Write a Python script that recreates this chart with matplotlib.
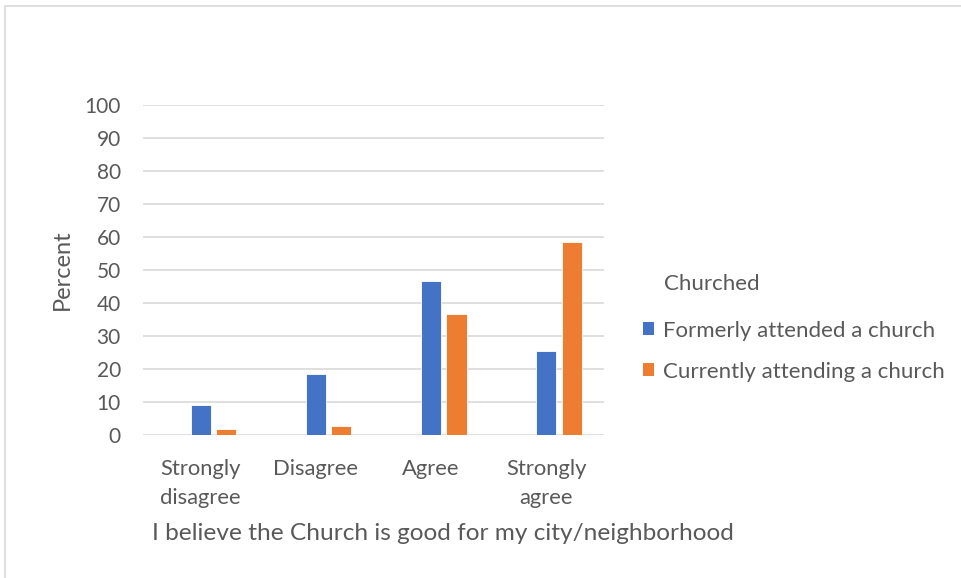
import matplotlib
matplotlib.use("Agg")
import matplotlib.pyplot as plt
from matplotlib.patches import Rectangle, Patch

categories = ["Strongly\ndisagree", "Disagree", "Agree", "Strongly\nagree"]
formerly = [9.2, 18.4, 46.6, 25.4]
currently = [1.9, 2.7, 36.6, 58.4]
series_names = ["Formerly attended a church", "Currently attending a church"]
legend_title = "Churched"
yticks = list(range(0, 101, 10))

BLUE = "#4472C4"
ORANGE = "#ED7D31"
TXT = "#595959"
FONT = "Lato"

plt.rcParams['font.family'] = [FONT, 'DejaVu Sans']

W, H = 961, 578
fig = plt.figure(figsize=(W/100, H/100), dpi=100)
fig.patches.append(Rectangle((5/W, -0.1), 1.2, (H-6)/H + 0.1, transform=fig.transFigure,
                             fill=False, edgecolor="#d9d9d9", linewidth=1.2))

ax = fig.add_axes([143/W, 1-435/H, (604-143)/W, (435-105)/H])
x = list(range(len(categories)))
bw = 0.175
off = 0.22
ax.bar([i for i in x], formerly, width=bw, color=BLUE, edgecolor="white", linewidth=0.6, zorder=3)
ax.bar([i + off for i in x], currently, width=bw, color=ORANGE, edgecolor="white", linewidth=0.6, zorder=3)

ax.set_xlim(-0.5, 3.5)
ax.set_ylim(0, 100)
ax.set_yticks(yticks)
ax.set_yticklabels([str(t) for t in yticks], fontsize=15, color=TXT)
ax.set_xticks(x)
ax.set_xticklabels(categories, fontsize=15.8, color=TXT, linespacing=1.6)
ax.tick_params(axis='both', length=0)
ax.tick_params(axis='y', pad=16)
ax.tick_params(axis='x', pad=17)
ax.yaxis.grid(True, color="#d9d9d9", linewidth=1.2, zorder=0)
ax.set_axisbelow(True)
for s in ax.spines.values():
    s.set_visible(False)

fig.text(62/W, 1-270/H, "Percent", rotation=90, ha="center", va="center", fontsize=17, color=TXT)
fig.text(443/W, 1-533/H, "I believe the Church is good for my city/neighborhood",
         ha="center", va="center", fontsize=17.6, color=TXT)

fig.text(664/W, 1-284/H, legend_title, ha="left", va="center", fontsize=16, color=TXT)
handles = [Patch(facecolor=BLUE), Patch(facecolor=ORANGE)]
leg = fig.legend(handles, series_names, loc="upper left",
                 bbox_to_anchor=(627/W, 1-305/H), frameon=False, fontsize=16,
                 handlelength=0.5, handleheight=0.5,
                 handletextpad=0.4, labelspacing=0.95, borderpad=0.2)
for t in leg.get_texts():
    t.set_color(TXT)

fig.savefig("out.png", dpi=100, facecolor="white")
